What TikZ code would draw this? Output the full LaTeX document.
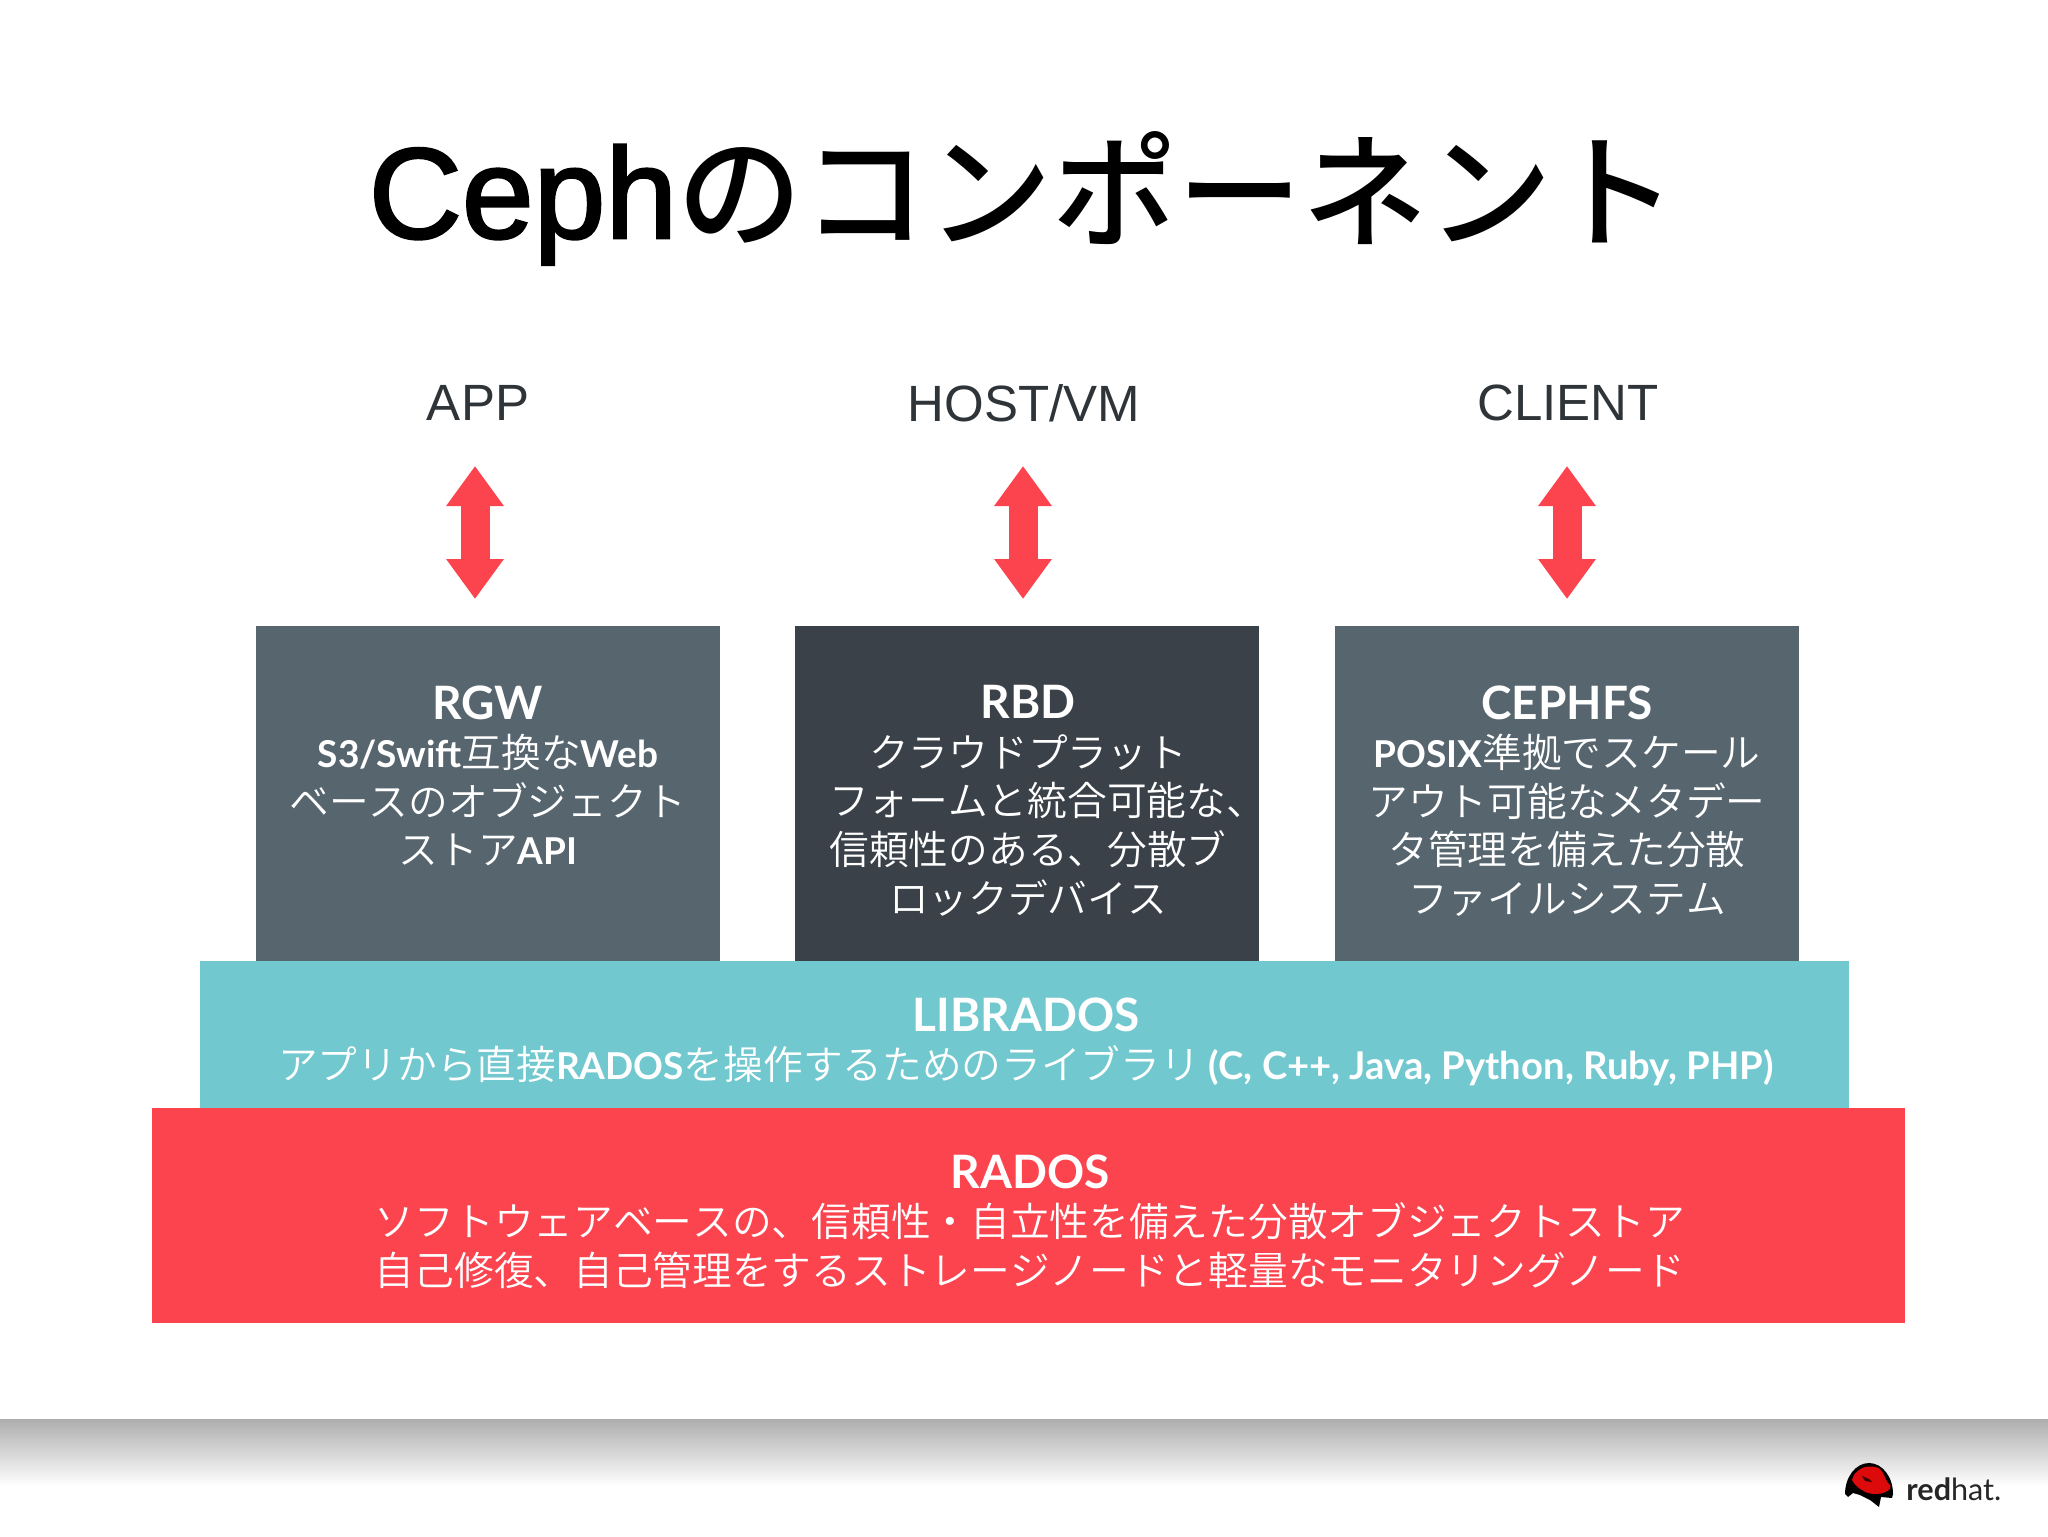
\documentclass[tikz,border=0pt]{standalone}
\usepackage{fontspec}
\usetikzlibrary{arrows.meta}
\setmainfont{Liberation Sans}
\newfontfamily\jpfont[UprightFont=* DemiLight,BoldFont=* Medium]{Noto Sans CJK JP}
\newfontfamily\latfont{Lato}
\newcommand{\jp}[1]{{\jpfont\addfontfeature{Kerning=Off}#1}}
\newcommand{\lat}[1]{{\latfont\bfseries\fontsize{18.5}{24.3}\selectfont #1}}
\newcommand{\latw}[1]{{\latfont\bfseries\fontsize{19.1}{24.3}\selectfont #1}}
\newcommand{\hd}[1]{{\latfont\bfseries\fontsize{23}{24.3}\selectfont #1}}
\definecolor{slategrey}{HTML}{56656E}
\definecolor{darkslate}{HTML}{3A4149}
\definecolor{libteal}{HTML}{71C8CF}
\definecolor{radosred}{HTML}{FC444F}
\definecolor{labelink}{HTML}{2E3438}
\definecolor{hatred}{HTML}{DC0A0A}
\tikzset{
  block/.style={fill=#1,draw=none,inner sep=0pt,anchor=north west},
  blocktext/.style={white,align=center,font=\fontsize{19.85}{24.3}\selectfont,inner sep=0pt,anchor=north},
  toplabel/.style={labelink,font=\fontsize{25.5}{30}\selectfont,inner sep=0pt},
  updown/.style={radosred,line width=14.5pt,{Triangle[length=20pt,width=27.5pt]}-{Triangle[length=20pt,width=27.5pt]}}
}
\begin{document}
\begin{tikzpicture}[x=0.5pt,y=-0.5pt]
  \useasboundingbox (0,0) rectangle (2048,1536);
  \fill[white] (0,0) rectangle (2048,1536);
  % footer band
  \shade[top color=black!32,bottom color=white] (0,1419) rectangle (2048,1486);
  % title
  \node[inner sep=0pt,font=\fontsize{64.5}{70}\selectfont] (title) at (1023,198) {{\addfontfeature{FakeBold=2}Ceph}{\jpfont\bfseries\fontsize{62.5}{70}\selectfont のコンポーネント}};
  % client labels
  \node[toplabel] (app) at (478,403) {APP};
  \node[toplabel] (host) at (1024,403) {HOST/VM};
  \node[toplabel] (client) at (1568,403) {CLIENT};
  % blocks
  \node[block=slategrey,minimum width=232pt,minimum height=167.5pt] (rgw) at (256,626) {};
  \node[block=darkslate,minimum width=232pt,minimum height=167.5pt] (rbd) at (795,626) {};
  \node[block=slategrey,minimum width=232pt,minimum height=167.5pt] (cephfs) at (1335,626) {};
  \node[block=libteal,minimum width=824.5pt,minimum height=73.5pt] (librados) at (200,961) {};
  \node[block=radosred,minimum width=876.5pt,minimum height=107.5pt] (rados) at (152,1108) {};
  % arrows
  \foreach \name/\xpos in {app/475,host/1023,client/1567} {
    \coordinate (\name top) at (\xpos,466);
    \coordinate (\name bot) at (\xpos,599);
    \draw[updown] (\name top) -- (\name bot);
  }
  % block texts
  \node[blocktext] (rgwtext) at (488,685) {\hd{RGW}\\
    \lat{S3/Swift}\jp{互換な}\lat{Web}\\
    \jp{ベースのオブジェクト}\\
    \jp{ストア}\lat{API}};
  \node[blocktext] (rbdtext) at (1028,685) {\hd{RBD}\\
    \jp{クラウドプラット}\\
    \hspace*{19.5pt}\jp{フォームと統合可能な、}\\
    \jp{信頼性のある、分散ブ}\\
    \jp{ロックデバイス}};
  \node[blocktext] (cephfstext) at (1567,685) {\hd{CEPHFS}\\
    \lat{POSIX}\jp{準拠でスケール}\\
    \jp{アウト可能なメタデー}\\
    \jp{タ管理を備えた分散}\\
    \jp{ファイルシステム}};
  \node[blocktext] (libtext) at (1026,997) {\hd{LIBRADOS}\\
    \jp{アプリから直接}\lat{RADOS}\jp{を操作するためのライブラリ }\latw{(C, C++, Java, Python, Ruby, PHP)}};
  \node[blocktext] (radostext) at (1030,1154) {\hd{RADOS}\\
    \jp{ソフトウェアベースの、信頼性・自立性を備えた分散オブジェクトストア}\\
    \jp{自己修復、自己管理をするストレージノードと軽量なモニタリングノード}};
  % logo
  \fill[black] (1845,1494) arc[start angle=180,end angle=360,x radius=24,y radius=31] -- (1892,1498) -- (1881,1497) -- (1879,1507) -- (1870,1500) -- (1860,1495) -- (1853,1493) -- (1848,1497) -- cycle;
  \fill[hatred] (1852,1480) .. controls (1853,1475) and (1856,1472) .. (1859,1470) .. controls (1865,1465) and (1876,1466) .. (1880,1469) .. controls (1884,1473) and (1885,1479) .. (1888,1483) .. controls (1891,1485) and (1891,1487) .. (1890,1489) .. controls (1884,1495) and (1870,1496) .. (1862,1490) .. controls (1858,1488) and (1854,1484) .. (1852,1480) -- cycle;
  \fill[black!75!hatred] (1862,1476) -- (1869,1479) -- (1872,1482) -- (1865,1481) -- cycle;
  \node[inner sep=0pt,anchor=base west,text=black!85,font=\fontsize{15.3}{18}\selectfont\latfont] (redhat) at (1906,1500) {\textbf{red}hat.};
\end{tikzpicture}
\end{document}
